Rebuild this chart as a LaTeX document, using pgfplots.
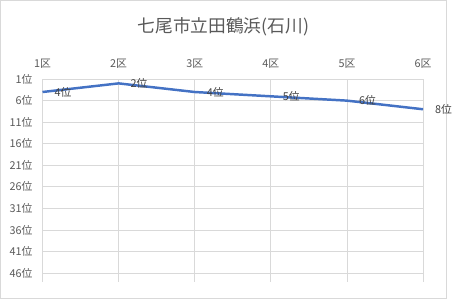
\documentclass[border=0pt]{standalone}
\usepackage{fontspec}
\setmainfont{Noto Sans CJK JP}
\usepackage{pgfplots}
\pgfplotsset{compat=1.18}
\definecolor{txt}{HTML}{595959}
\definecolor{lbl}{HTML}{404040}
\definecolor{gridc}{HTML}{D9D9D9}
\definecolor{linec}{HTML}{4472C4}
\begin{document}
\begin{tikzpicture}
\draw[gridc, line width=0.75bp] (0.375bp,0.375bp) rectangle (451.625bp,301.625bp);
\node[text=txt, font=\fontsize{18}{21}\selectfont] at (226bp,275bp) {七尾市立田鶴浜(石川)};
\begin{axis}[
  at={(43bp,17bp)}, anchor=south west,
  scale only axis, width=385bp, height=205bp,
  xmin=1, xmax=6, ymin=1, ymax=48, y dir=reverse,
  xtick={1,2,3,4,5,6},
  xticklabels={1区,2区,3区,4区,5区,6区},
  xticklabel pos=upper,
  ytick={1,6,11,16,21,26,31,36,41,46},
  yticklabel={\pgfmathprintnumber{\tick}位},
  major tick length=0pt,
  axis line style={draw=none},
  grid=major,
  grid style={gridc, line width=0.75bp},
  tick label style={text=txt, font=\fontsize{11}{13}\selectfont, inner sep=0pt},
  xticklabel shift=11bp,
  yticklabel shift=10bp,
  /pgf/number format/assume math mode=true,
  clip=false,
]
\addplot[linec, line width=2.5bp, line join=round, mark=none,
  nodes near coords={\pgfmathprintnumber{\pgfplotspointmeta}位},
  point meta=y,
  nodes near coords style={anchor=west, xshift=11bp, inner sep=0pt, text=lbl, font=\fontsize{11}{13}\selectfont, /pgf/number format/assume math mode=true}]
coordinates {(1,4) (2,2) (3,4) (4,5) (5,6) (6,8)};
\end{axis}
\end{tikzpicture}
\end{document}
